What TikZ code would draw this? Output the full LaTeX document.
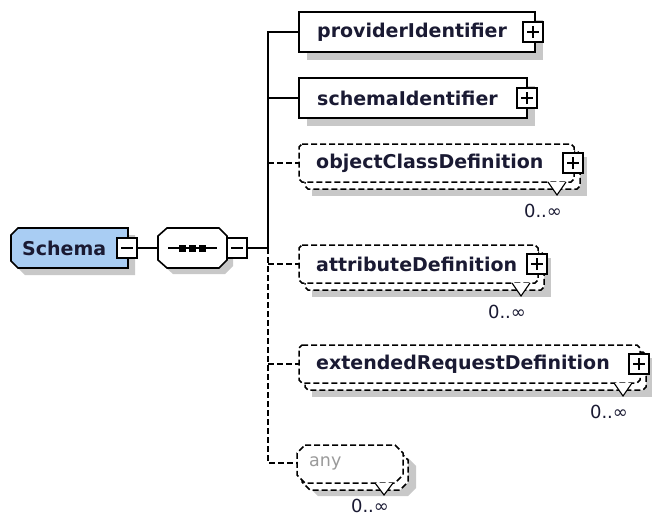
\documentclass[tikz,border=0pt]{standalone}
\usepackage{fontspec}
\setmainfont{DejaVu Sans}
\definecolor{shadowgray}{HTML}{C8C8C8}
\definecolor{schemablue}{HTML}{A9CDF3}
\definecolor{txt}{HTML}{1A1A33}
\definecolor{anygray}{HTML}{9A9A9A}
\tikzset{
  conn/.style={line width=1.6pt},
  dconn/.style={line width=1.6pt, dash pattern=on 6pt off 3pt},
  ebox/.style={draw, fill=white, line width=1.6pt},
  debox/.style={draw, fill=white, line width=1.5pt, dash pattern=on 6pt off 3pt},
  pmbox/.style={draw, fill=white, line width=1.3pt, minimum size=20pt, inner sep=0pt},
  ename/.style={font=\fontsize{19}{22}\selectfont\bfseries, text=txt, anchor=west, inner sep=0pt},
  card/.style={font=\fontsize{18}{20}\selectfont, text=txt, inner sep=0pt},
}
\newcommand\pmplus[1]{\draw[line width=1.3pt] ([xshift=-6pt]#1.center) -- ([xshift=6pt]#1.center) ([yshift=-6pt]#1.center) -- ([yshift=6pt]#1.center);}
\newcommand\pmminus[1]{\draw[line width=1.3pt] ([xshift=-6pt]#1.center) -- ([xshift=6pt]#1.center);}
\newcommand\chamrect[5]{\path[#1] ({#2+3},{#3}) -- ({#4-3},{#3}) -- ({#4},{#3+3}) -- ({#4},{#5-3}) -- ({#4-3},{#5}) -- ({#2+3},{#5}) -- ({#2},{#5-3}) -- ({#2},{#3+3}) -- cycle;}
\newcommand\multielem[6]{%
  \fill[shadowgray] ({#2+13},{#3+13}) rectangle ({#4+13},{#5+14});
  \chamrect{debox}{#2+6}{#3+7}{#4+6}{#5+7}
  \chamrect{debox}{#2}{#3}{#4}{#5}
  \node[ename] (#1) at ({#2+17},{(#3+#5)/2}) {#6};
  \node[pmbox] (#1pm) at ({#4-1},{(#3+#5)/2}) {};
  \pmplus{#1pm}
  \draw[line width=1.1pt, fill=white] ({#4-26},{#5}) -- ({#4-17},{#5+13}) -- ({#4-8},{#5});
  \node[card] (#1card) at ({#4-31},{#5+29}) {0..∞};
}
\begin{document}
\begin{tikzpicture}[x=1pt,y=-1pt]
\useasboundingbox (0,0) rectangle (652,519);

% ---------- Schema element ----------
\fill[shadowgray] (25,235) -- (135,235) -- (135,275) -- (25,275) -- (18,268) -- (18,242) -- cycle;
\draw[fill=schemablue, line width=1.6pt] (18,228) -- (128,228) -- (128,268) -- (18,268) -- (11,261) -- (11,235) -- cycle;
\node[ename] (schema) at (22,248) {Schema};
\node[pmbox] (sm) at (127,248) {};
\pmminus{sm}

% ---------- sequence compositor ----------
\fill[shadowgray] (173,234) -- (225,234) -- (233,242) -- (233,266) -- (225,274) -- (173,274) -- (164,266) -- (164,242) -- cycle;
\draw[fill=white, line width=1.6pt] (167,228) -- (219,228) -- (227,236) -- (227,260) -- (219,268) -- (167,268) -- (158,260) -- (158,236) -- cycle;
\coordinate (compL) at (158,248);
\draw[line width=1.6pt] (168,248) -- (217,248);
\fill (178.5,244.5) rectangle (185.5,251.5);
\fill (188.5,244.5) rectangle (195.5,251.5);
\fill (198.5,244.5) rectangle (205.5,251.5);
\node[pmbox] (cm) at (237,248) {};
\pmminus{cm}

% ---------- connectors ----------
\coordinate (J) at (268,248);
\coordinate (t1) at (268,32);
\coordinate (t2) at (268,98);
\coordinate (t3) at (268,163);
\coordinate (t4) at (268,264);
\coordinate (t5) at (268,364);
\coordinate (t6) at (268,463);
\coordinate (piL) at (299,32);
\coordinate (siL) at (299,98);
\coordinate (ocL) at (299,163);
\coordinate (adL) at (299,264);
\coordinate (erL) at (299,364);
\coordinate (anyL) at (297,463);
\draw[conn] (sm.east) -- (compL);
\draw[conn] (cm.east) -- (J);
\draw[conn] (piL) -- (t1) -- (J);
\draw[conn] (siL) -- (t2);
\draw[dconn] (J) -- (t6) -- (anyL);
\draw[dconn] (t3) -- (ocL);
\draw[dconn] (t4) -- (adL);
\draw[dconn] (t5) -- (erL);

% ---------- providerIdentifier ----------
\fill[shadowgray] (307,20) rectangle (543,60);
\draw[ebox] (299,12) rectangle (535,52);
\node[ename] (pi) at (317,32) {providerIdentifier};
\node[pmbox] (pipm) at (533,32) {};
\pmplus{pipm}

% ---------- schemaIdentifier ----------
\fill[shadowgray] (307,86) rectangle (535,126);
\draw[ebox] (299,78) rectangle (527,118);
\node[ename] (si) at (317,98) {schemaIdentifier};
\node[pmbox] (sipm) at (527,98) {};
\pmplus{sipm}

% ---------- repeated optional elements ----------
\multielem{oc}{299}{144}{574}{182}{objectClassDefinition}
\multielem{ad}{299}{245}{538}{283}{attributeDefinition}
\multielem{er}{299}{345}{640}{383}{extendedRequestDefinition}

% ---------- any ----------
\fill[shadowgray] (318,458) -- (408,458) -- (416,466) -- (416,488) -- (408,496) -- (318,496) -- (310,488) -- (310,466) -- cycle;
\path[debox] (310,452) -- (400,452) -- (408,460) -- (408,482) -- (400,490) -- (310,490) -- (302,482) -- (302,460) -- cycle;
\path[debox] (305,445) -- (395,445) -- (403,453) -- (403,475) -- (395,483) -- (305,483) -- (297,475) -- (297,453) -- cycle;
\node[font=\fontsize{17.5}{20}\selectfont, text=anygray, anchor=west, inner sep=0pt] (any) at (309,463) {any};
\draw[line width=1.1pt, fill=white] (375,483) -- (384,495) -- (393,483);
\node[card] (anycard) at (370,506) {0..∞};
\end{tikzpicture}
\end{document}
